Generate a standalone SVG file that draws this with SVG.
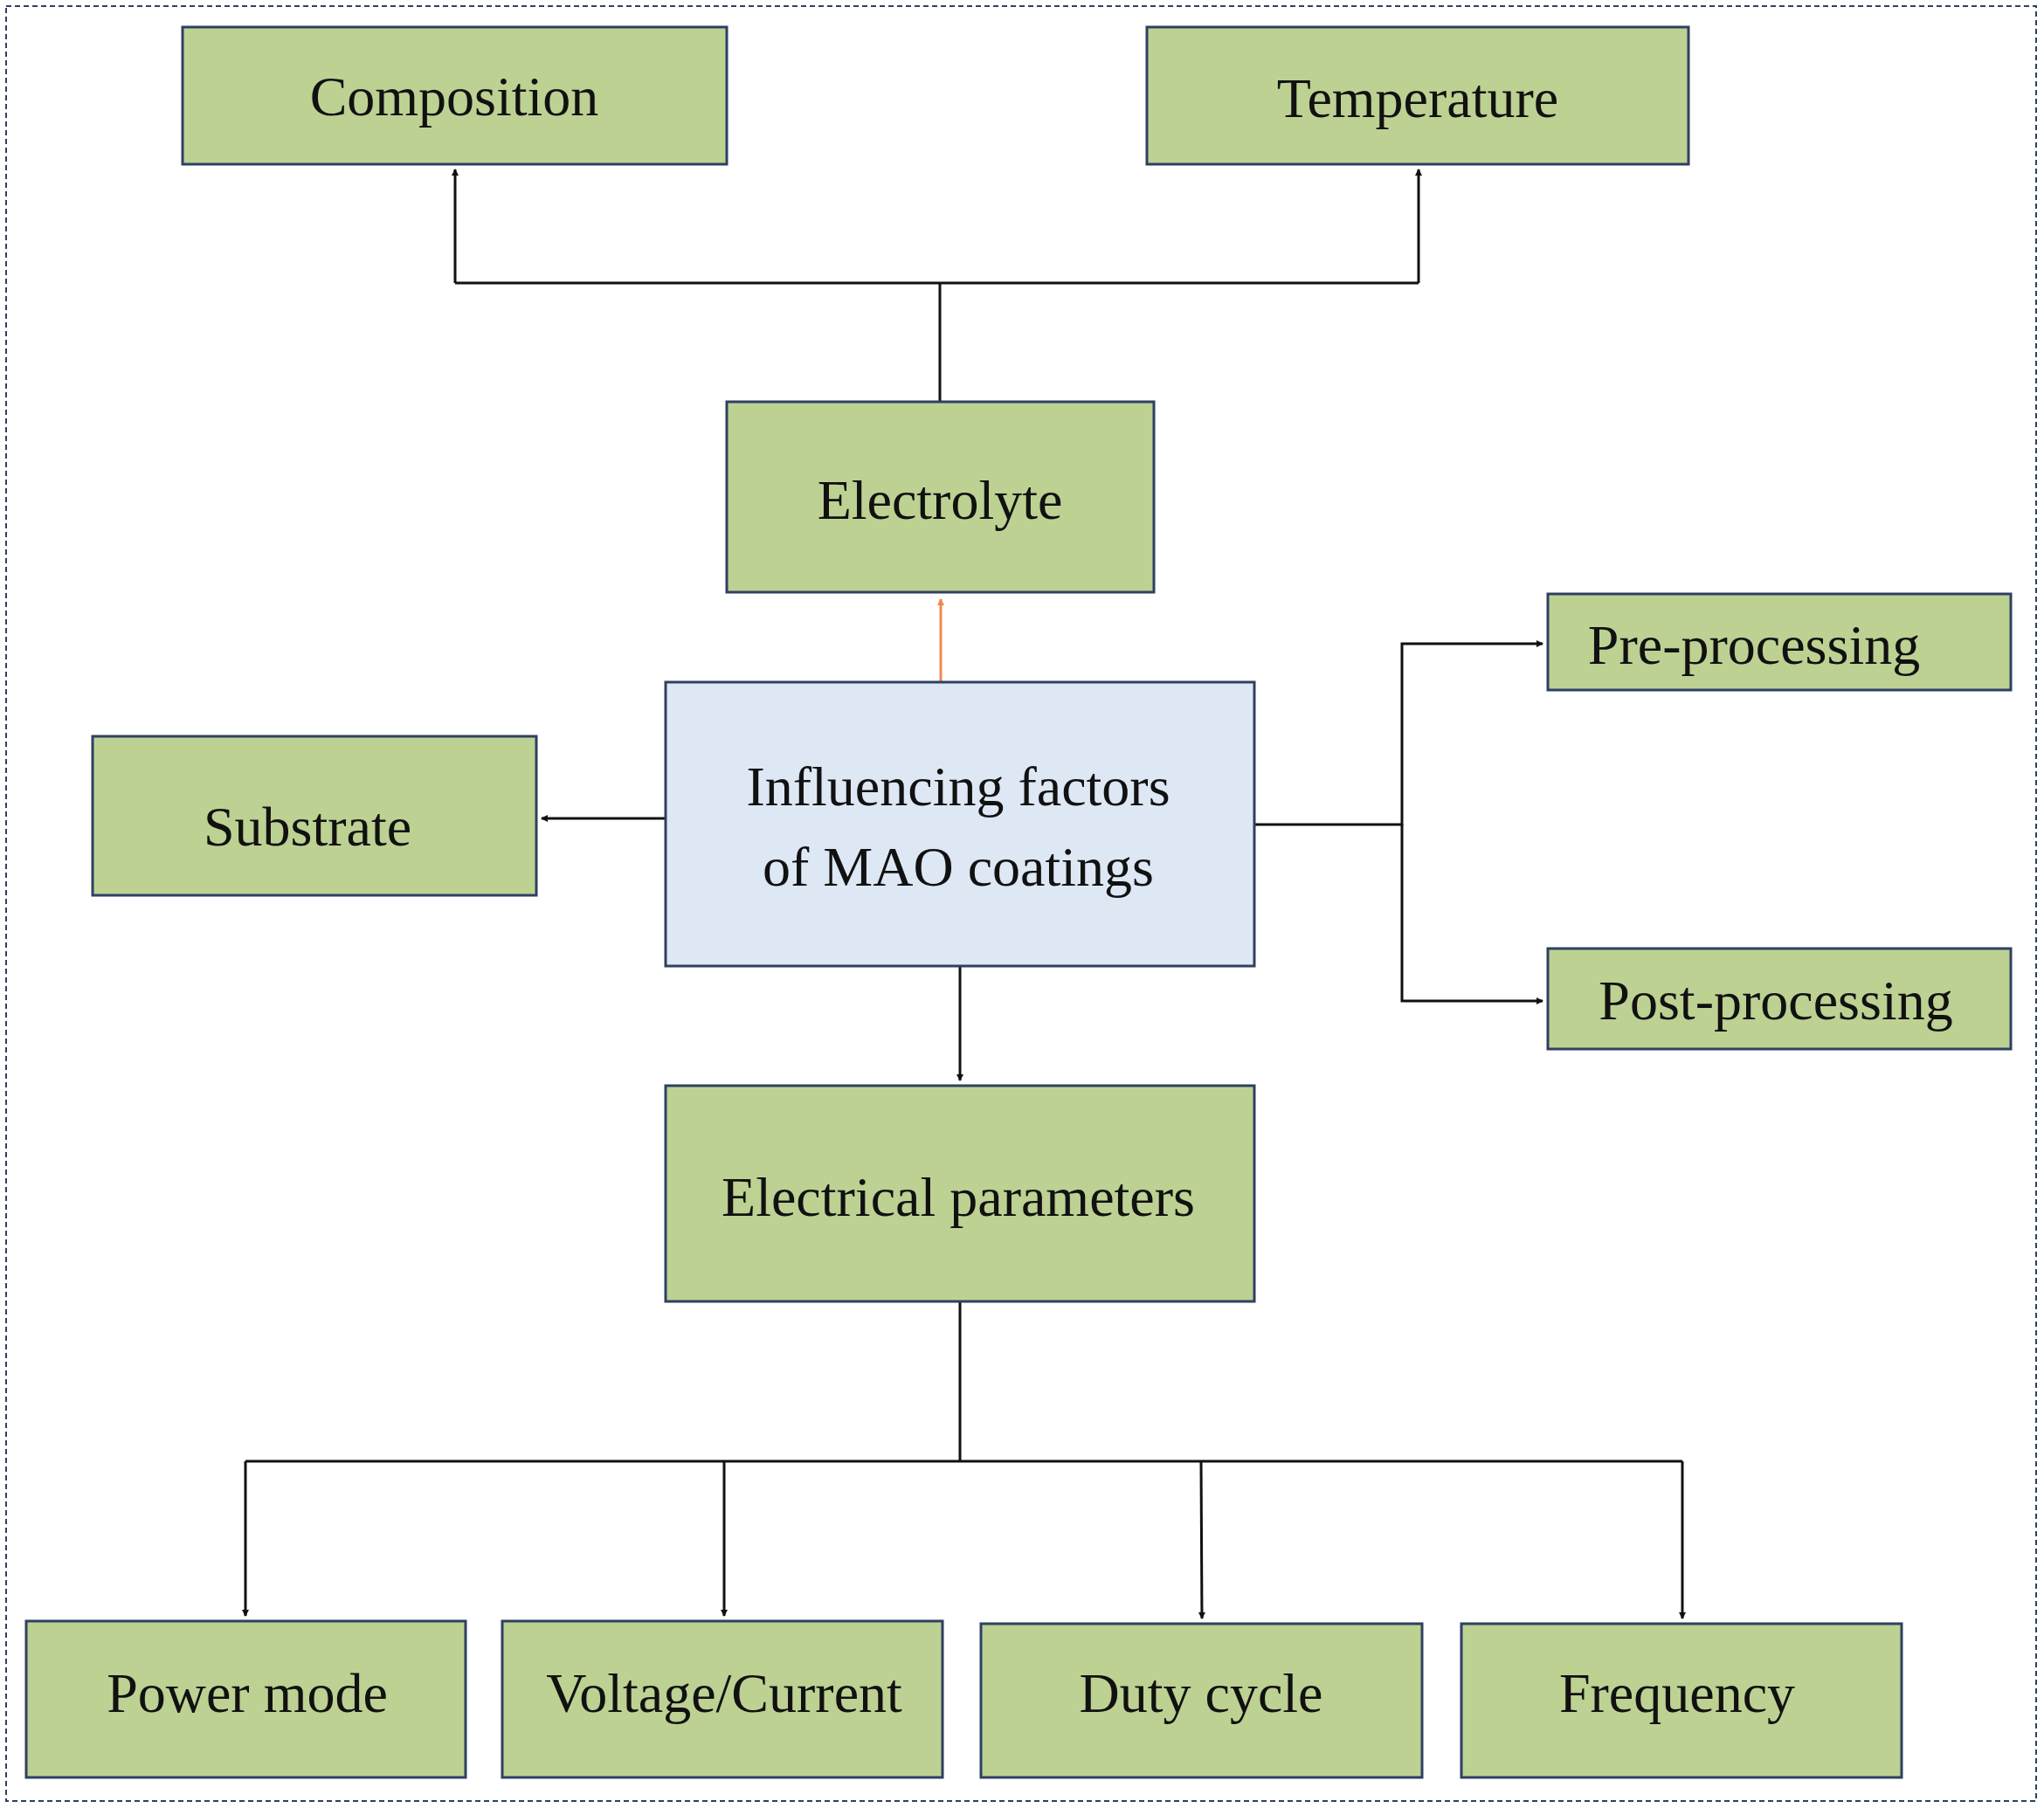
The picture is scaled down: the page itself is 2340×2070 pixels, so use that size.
<svg xmlns="http://www.w3.org/2000/svg" width="2340" height="2070" viewBox="0 0 2340 2070">
<style>
.n{fill:#bdd193;stroke:#2e4063;stroke-width:3}
.b{fill:#dde8f4;stroke:#2e4063;stroke-width:3}
text{font-family:"Liberation Serif","Times New Roman",serif;font-size:64px;fill:#111;text-anchor:middle;dominant-baseline:central}
.c{fill:none;stroke:#111;stroke-width:3}
</style>
<defs>
<marker id="a" markerWidth="8" markerHeight="8" refX="7" refY="4" orient="auto" markerUnits="userSpaceOnUse" viewBox="0 0 8 8"><path d="M0,0L8,4L0,8z" fill="#111"/></marker>
<marker id="o" markerWidth="8" markerHeight="8" refX="7" refY="4" orient="auto" markerUnits="userSpaceOnUse" viewBox="0 0 8 8"><path d="M0,0L8,4L0,8z" fill="#f08a4b"/></marker>
</defs>
<rect x="7" y="7" width="2324" height="2055" fill="#fff" stroke="#2e4063" stroke-width="2" stroke-dasharray="6,4"/>
<g id="connectors">
<path class="c" d="M1076,460V324M521,324H1624M521,324V194" marker-end="url(#a)"/>
<path class="c" d="M1624,324V194" marker-end="url(#a)"/>
<path d="M1077,781V686" stroke="#f08a4b" stroke-width="3" fill="none" marker-end="url(#o)"/>
<path class="c" d="M762,937H620" marker-end="url(#a)"/>
<path class="c" d="M1436,944H1605V737H1766" marker-end="url(#a)"/>
<path class="c" d="M1605,944V1146H1766" marker-end="url(#a)"/>
<path class="c" d="M1099,1106V1237" marker-end="url(#a)"/>
<path class="c" d="M1099,1490V1673M281,1673H1926M281,1673V1850" marker-end="url(#a)"/>
<path class="c" d="M829,1673V1850" marker-end="url(#a)"/>
<path class="c" d="M1375,1673L1376,1853" marker-end="url(#a)"/>
<path class="c" d="M1926,1673V1853" marker-end="url(#a)"/>
</g>
<g id="composition"><rect class="n" x="209" y="31" width="623" height="157"/><text x="520" y="110">Composition</text></g>
<g id="temperature"><rect class="n" x="1313" y="31" width="620" height="157"/><text x="1623" y="112">Temperature</text></g>
<g id="electrolyte"><rect class="n" x="832" y="460" width="489" height="218"/><text x="1076" y="572">Electrolyte</text></g>
<g id="influencing"><rect class="b" x="762" y="781" width="674" height="325"/><text x="1097" y="900">Influencing factors</text><text x="1097" y="992">of MAO coatings</text></g>
<g id="substrate"><rect class="n" x="106" y="843" width="508" height="182"/><text x="352" y="946">Substrate</text></g>
<g id="pre"><rect class="n" x="1772" y="680" width="530" height="110"/><text x="2008" y="738">Pre-processing</text></g>
<g id="post"><rect class="n" x="1772" y="1086" width="530" height="115"/><text x="2033" y="1145">Post-processing</text></g>
<g id="electrical"><rect class="n" x="762" y="1243" width="674" height="247"/><text x="1097" y="1370">Electrical parameters</text></g>
<g id="power"><rect class="n" x="30" y="1856" width="503" height="179"/><text x="283" y="1938">Power mode</text></g>
<g id="voltage"><rect class="n" x="575" y="1856" width="504" height="179"/><text x="829" y="1938">Voltage/Current</text></g>
<g id="duty"><rect class="n" x="1123" y="1859" width="505" height="176"/><text x="1375" y="1938">Duty cycle</text></g>
<g id="frequency"><rect class="n" x="1673" y="1859" width="504" height="176"/><text x="1920" y="1938">Frequency</text></g>
</svg>
